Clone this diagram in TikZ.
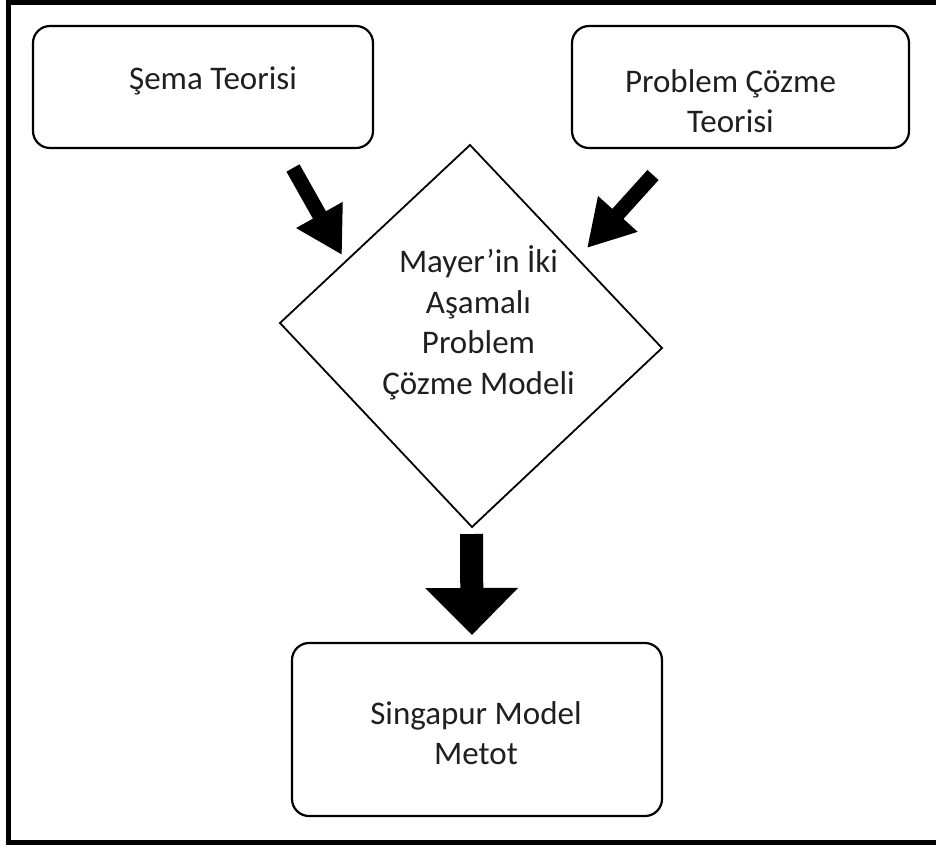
\documentclass[tikz,border=0pt]{standalone}
\usepackage{fontspec}
\setmainfont{Carlito}
\usetikzlibrary{arrows.meta}
\begin{document}
\begin{tikzpicture}[x=1pt,y=-1pt,
  roundbox/.style={draw, line width=2.2pt, rounded corners=17pt, inner sep=0pt, outer sep=0pt},
  label/.style={align=center, inner sep=0pt, text=black!88, font=\fontsize{33}{40.5}\selectfont},
  blockarrow/.style={line width=15pt, -{Triangle[length=46pt,width=50pt]}}]
\useasboundingbox (0,0) rectangle (936,847);

% outer frame (open on the right)
\draw[line width=5pt] (936,2) -- (8.5,2) -- (8.5,842.5) -- (936,842.5);

% rounded boxes
\node[roundbox, minimum width=340pt, minimum height=122pt] (schema) at (203,87) {};
\node[roundbox, minimum width=337pt, minimum height=122pt] (problem) at (740.5,87) {};
\node[roundbox, minimum width=370pt, minimum height=173pt] (singapore) at (477,729.5) {};

% diamond
\coordinate (dt) at (470,145);
\coordinate (dr) at (662,348);
\coordinate (db) at (472,527);
\coordinate (dl) at (280,323);
\draw[line width=1.8pt, line join=miter] (dt) -- (dr) -- (db) -- (dl) -- cycle;

% texts
\node[label] (schematext) at (213,81) {Şema Teorisi};
\node[label] (problemtext) at (730.5,101) {Problem Çözme\\Teorisi};
\node[label] (mayertext) at (478.5,323) {Mayer’in İki\\Aşamalı\\Problem\\Çözme Modeli};
\node[label] (singaporetext) at (476,733) {Singapur Model\\Metot};

% arrows
\coordinate (a1s) at (293,168);
\coordinate (a1e) at (342,255);
\coordinate (a2s) at (653,175);
\coordinate (a2e) at (587,248);
\coordinate (a3s) at (471.5,534);
\coordinate (a3e) at (472,635);
\draw[blockarrow] (a1s) -- (a1e);
\draw[blockarrow] (a2s) -- (a2e);
\draw[line width=23pt, -{Triangle[length=47pt,width=90pt]}] (a3s) -- (a3e);
\end{tikzpicture}
\end{document}
